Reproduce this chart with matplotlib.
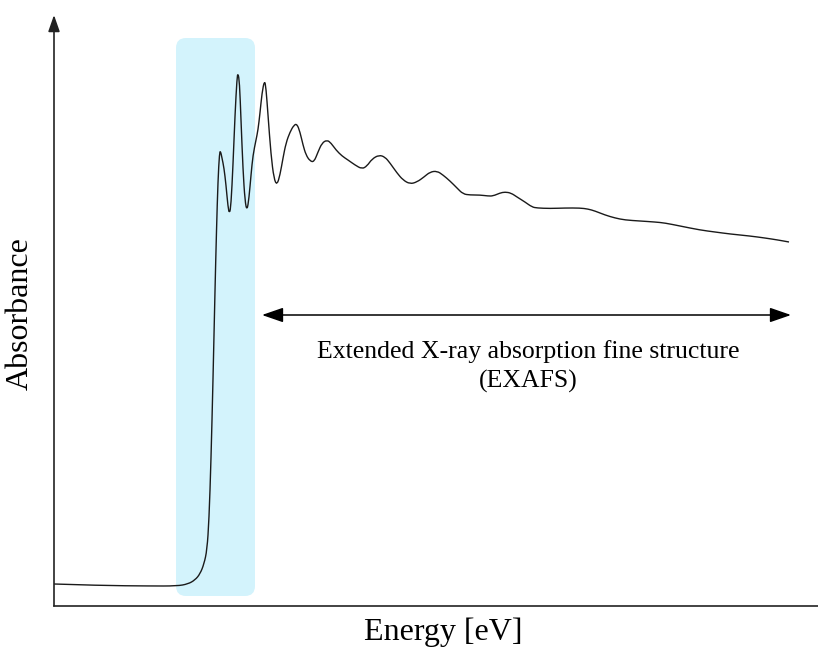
import matplotlib.pyplot as plt
from matplotlib.patches import FancyBboxPatch, PathPatch
from matplotlib.path import Path

# absorption spectrum, arbitrary units (energy offset, absorbance)
energy = [0, 46, 96, 123, 134, 141, 146, 150, 153, 155, 157, 159, 161, 162.5,
          164, 165.5, 166.5, 168, 170, 172, 174, 175.5, 177, 179, 181, 183, 184,
          185.5, 187, 189, 191, 193, 195, 197, 199, 202, 204, 206, 208, 210.5,
          212, 214, 217, 220, 223, 226, 229, 232, 236, 240, 243, 246, 249, 252,
          256, 260, 264, 268, 273, 277, 282, 288, 294, 301, 308, 313, 318, 325,
          331, 336, 343, 349, 356, 363, 370, 376, 383, 389, 396, 403, 409, 416,
          426, 434, 439, 446, 451, 457, 463, 471, 478, 483, 496, 511, 526, 534,
          541, 551, 561, 571, 586, 601, 611, 626, 646, 661, 676, 696, 711, 724,
          735]
absorbance = [22, 20.5, 20, 20, 22, 26, 32, 42, 56, 86, 146, 226, 316, 376,
              426, 453, 455, 448, 438, 421, 399, 392, 401, 441, 491, 528, 533,
              524, 486, 436, 405, 395, 408, 431, 451, 466, 476, 493, 513, 526,
              518, 491, 451, 427, 421, 431, 448, 463, 474, 481, 482, 474, 461,
              451, 445, 444, 454, 463, 466, 463, 456, 450, 446, 441, 437, 440,
              447, 451, 449, 443, 433, 426, 422, 424, 429, 434, 435, 431, 425,
              418, 412, 411, 411, 410, 410, 413, 414, 413, 409, 404, 399, 398,
              397.5, 398, 398, 397, 395, 391, 388, 386, 385, 384, 383, 380, 376,
              374, 372, 370, 368, 366, 364]

# XANES window and EXAFS range
xanes_span = (122, 201)
xanes_height = (10, 568)
exafs_span = (208, 737)
exafs_level = 291

fig = plt.figure(figsize=(8.18, 6.49), dpi=100)
ax = fig.add_axes([54 / 818, 43 / 649, 764 / 818, 591 / 649])
ax.set_xlim(0, 764)
ax.set_ylim(0, 591)

serif = ['Liberation Serif', 'DejaVu Serif']

box = FancyBboxPatch((xanes_span[0], xanes_height[0]),
                     xanes_span[1] - xanes_span[0],
                     xanes_height[1] - xanes_height[0],
                     boxstyle='round,pad=0,rounding_size=10',
                     fc='#d3f3fc', ec='none', zorder=1)
ax.add_patch(box)

# smooth the spectrum with quadratic segments through the midpoints
pts = list(zip(energy, absorbance))
verts = [pts[0]]
codes = [Path.MOVETO]
for i in range(1, len(pts) - 1):
    nxt = ((pts[i][0] + pts[i + 1][0]) / 2, (pts[i][1] + pts[i + 1][1]) / 2)
    verts += [pts[i], nxt]
    codes += [Path.CURVE3, Path.CURVE3]
verts.append(pts[-1])
codes.append(Path.LINETO)
ax.add_patch(PathPatch(Path(verts, codes), fc='none', ec='#1a1a1a', lw=1.0,
                       zorder=3))

# double-headed arrow over the EXAFS region
ax.annotate('', xy=(exafs_span[1], exafs_level), xytext=(exafs_span[0], exafs_level),
            arrowprops=dict(arrowstyle='<|-|>,head_length=1.3,head_width=0.45',
                            mutation_scale=10, lw=1.1, color='black',
                            shrinkA=0, shrinkB=0))
mid = (exafs_span[0] + exafs_span[1]) / 2 + 2
ax.text(mid, 254, 'Extended X-ray absorption fine structure', ha='center',
        va='center', fontsize=18.5, family=serif)
ax.text(mid, 225, '(EXAFS)', ha='center', va='center', fontsize=18.5, family=serif)

# axes: plain bottom line, arrow on the vertical axis
for side in ['top', 'right', 'left']:
    ax.spines[side].set_visible(False)
ax.spines['bottom'].set_linewidth(1.2)
ax.spines['bottom'].set_color('#222222')
ax.annotate('', xy=(0, 591), xytext=(0, 0), xycoords='data',
            arrowprops=dict(arrowstyle='-|>,head_length=1.0,head_width=0.35',
                            mutation_scale=10, lw=1.2, color='#222222',
                            shrinkA=0, shrinkB=0),
            annotation_clip=False)
ax.set_xticks([])
ax.set_yticks([])

fig.text(443 / 818, 1 - 632 / 649, 'Energy [eV]', ha='center', va='center',
         fontsize=23, family=serif)
fig.text(20 / 818, 1 - 314 / 649, 'Absorbance', ha='center', va='center',
         rotation=90, fontsize=23, family=serif)

fig.savefig('out.png', dpi=100)
